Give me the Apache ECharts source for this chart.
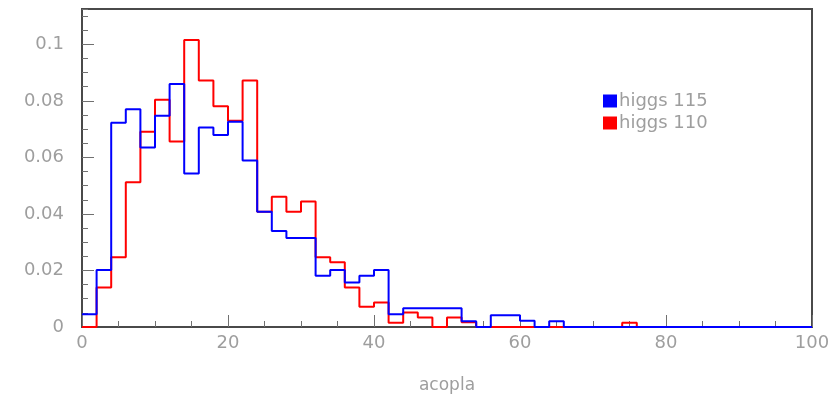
<!DOCTYPE html>
<html>
<head>
<meta charset="utf-8">
<script src="https://cdn.jsdelivr.net/npm/echarts@6/dist/echarts.min.js"></script>
<style>
html,body{margin:0;padding:0;background:#fff;}
#chart{width:836px;height:401px;}
</style>
</head>
<body>
<div id="chart"></div>
<script>
// Histogram: 50 bins of width 2 on [0, 100]
var binWidth = 2;
var xMin = 0, xMax = 100;
var xTickLabels = ['0', '20', '40', '60', '80', '100'];
var yTickLabels = ['0', '0.02', '0.04', '0.06', '0.08', '0.1'];
var seriesNames = ['higgs 115', 'higgs 110'];

var higgs115 = [
  0.0045, 0.0202, 0.0723, 0.0770, 0.0635, 0.0747, 0.0860, 0.0543, 0.0706, 0.0679,
  0.0726, 0.0589, 0.0408, 0.0340, 0.0315, 0.0315, 0.0181, 0.0202, 0.0157, 0.0181,
  0.0202, 0.0045, 0.0066, 0.0066, 0.0066, 0.0066, 0.0020, 0, 0.0042, 0.0042,
  0.0022, 0, 0.0020, 0, 0, 0, 0, 0, 0, 0,
  0, 0, 0, 0, 0, 0, 0, 0, 0, 0
];
var higgs110 = [
  0, 0.0140, 0.0247, 0.0512, 0.0691, 0.0804, 0.0656, 0.1015, 0.0872, 0.0781,
  0.0730, 0.0872, 0.0408, 0.0461, 0.0408, 0.0444, 0.0247, 0.0229, 0.0140, 0.0072,
  0.0087, 0.0015, 0.0051, 0.0034, 0, 0.0034, 0.0017, 0, 0, 0,
  0, 0, 0, 0, 0, 0, 0, 0.0015, 0, 0,
  0, 0, 0, 0, 0, 0, 0, 0, 0, 0
];

function histPoints(vals) {
  var pts = [];
  for (var i = 0; i < vals.length; i++) pts.push([xMin + i * binWidth, vals[i]]);
  pts.push([xMin + vals.length * binWidth, vals[vals.length - 1]]);
  return pts;
}

var labelColor = '#9e9e9e';
var frameColor = '#4a4a4a';
var fontFam = '"DejaVu Sans", Verdana, sans-serif';

var chart = echarts.init(document.getElementById('chart'), null, {renderer: 'canvas'});
chart.setOption({
  animation: false,
  backgroundColor: '#ffffff',
  grid: {left: 82, right: 24, top: 9, bottom: 74, show: true, borderColor: frameColor, borderWidth: 2, backgroundColor: 'transparent'},
  legend: {
    data: [{name: seriesNames[0], icon: 'rect'}, {name: seriesNames[1], icon: 'rect'}],
    orient: 'vertical', left: 598, top: 87, itemWidth: 14, itemHeight: 13, itemGap: 4,
    textStyle: {color: labelColor, fontSize: 18, fontFamily: fontFam, padding: [0, 0, 0, -3]}
  },
  xAxis: [{
    type: 'value', min: xMin, max: xMax, interval: 20,
    name: 'acopla', nameLocation: 'middle', nameGap: 50,
    nameTextStyle: {color: labelColor, fontSize: 17, fontFamily: fontFam},
    axisLine: {show: true, lineStyle: {color: frameColor, width: 2}},
    axisTick: {show: true, inside: true, length: 12, lineStyle: {color: '#707070', width: 1}},
    axisLabel: {color: labelColor, fontSize: 18, fontFamily: fontFam, margin: 7,
      formatter: function (v) { var i = Math.round(v / 20); return xTickLabels[i] !== undefined ? xTickLabels[i] : ''; }},
    splitLine: {show: false}
  }, {
    type: 'value', min: xMin, max: xMax, interval: 5, position: 'bottom',
    axisLine: {show: false},
    axisTick: {show: true, inside: true, length: 6, lineStyle: {color: '#707070', width: 1}},
    axisLabel: {show: false}, splitLine: {show: false}
  }],
  yAxis: [{
    type: 'value', min: 0, max: 0.1125, interval: 0.02,
    axisLine: {show: true, lineStyle: {color: frameColor, width: 2}},
    axisTick: {show: true, inside: true, length: 12, lineStyle: {color: '#707070', width: 1}},
    axisLabel: {color: labelColor, fontSize: 18, fontFamily: fontFam, margin: 18, showMaxLabel: false,
      formatter: function (v) { var i = Math.round(v / 0.02); return (Math.abs(v - i * 0.02) < 1e-6 && yTickLabels[i] !== undefined) ? yTickLabels[i] : ''; }},
    splitLine: {show: false}
  }, {
    type: 'value', min: 0, max: 0.1125, interval: 0.005, position: 'left',
    axisLine: {show: false},
    axisTick: {show: true, inside: true, length: 6, lineStyle: {color: '#707070', width: 1}},
    axisLabel: {show: false}, splitLine: {show: false}
  }],
  series: [{
    name: seriesNames[1], type: 'line', step: 'end', symbol: 'none',
    data: histPoints(higgs110), color: '#ff0000',
    lineStyle: {color: '#ff0000', width: 2}, z: 2
  }, {
    name: seriesNames[0], type: 'line', step: 'end', symbol: 'none',
    data: histPoints(higgs115), color: '#0000ff',
    lineStyle: {color: '#0000ff', width: 2}, z: 3
  }]
});
</script>
</body>
</html>
